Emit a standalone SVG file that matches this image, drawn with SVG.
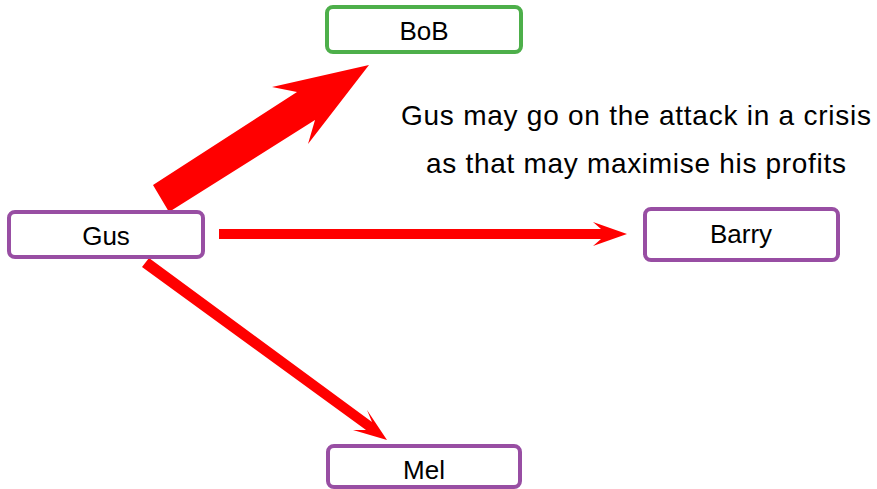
<svg xmlns="http://www.w3.org/2000/svg" width="877" height="489" viewBox="0 0 877 489">
<style>
.box{fill:#fff;stroke-width:4}
.p{stroke:#984ea3}
.g{stroke:#4daf4a}
text{font-family:"Liberation Sans","DejaVu Sans",sans-serif;font-size:26px;fill:#000;text-anchor:middle}
.note{font-size:28px}
.arr{fill:#ff0000;stroke:none}
</style>
<rect width="877" height="489" fill="#fff"/>
<g id="connectors">
<polygon class="arr" points="153,185 297,92 272,87 369,65 308,144 315,120 169,212"/>
<polygon class="arr" points="219,229 601,229 593,222 627,234 593,246 601,239 219,239"/>
<polygon class="arr" points="142,267 149,258 372,422 367,410 387,440 353,430 366,430"/>
</g>
<g id="Gus"><rect class="box p" x="9" y="212" width="194" height="45" rx="6"/><text x="106" y="245">Gus</text></g>
<g id="BoB"><rect class="box g" x="327" y="7" width="194" height="45" rx="6"/><text x="424" y="40">BoB</text></g>
<g id="Barry"><rect class="box p" x="645" y="209" width="193" height="51" rx="6"/><text x="741" y="243">Barry</text></g>
<g id="Mel"><rect class="box p" x="328" y="446" width="192" height="41" rx="6"/><text x="424" y="479">Mel</text></g>
<g id="note">
<text class="note" x="636" y="125" textLength="470" lengthAdjust="spacing">Gus may go on the attack in a crisis</text>
<text class="note" x="636" y="173" textLength="420" lengthAdjust="spacing">as that may maximise his profits</text>
</g>
</svg>
